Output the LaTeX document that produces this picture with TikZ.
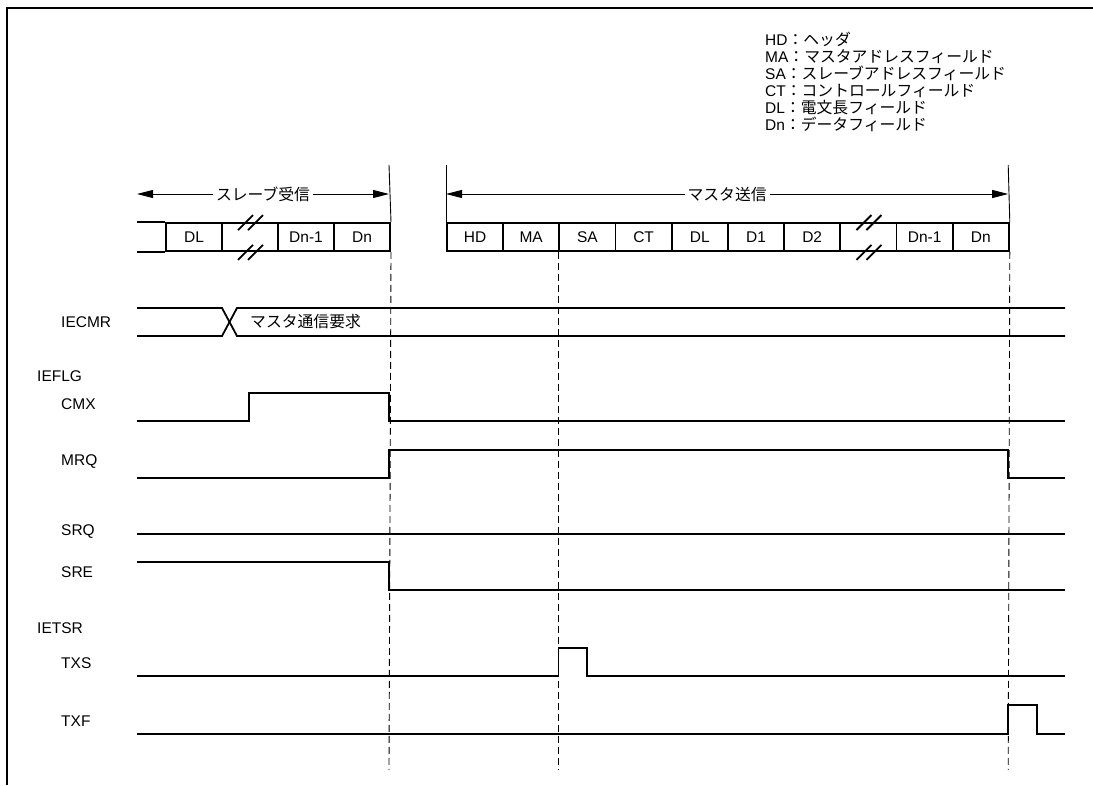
\documentclass[tikz,border=0pt]{standalone}
\usepackage{fontspec}
\setmainfont{Liberation Sans}
\newfontfamily\jp{Noto Sans CJK JP}[Scale=1.02]
\usetikzlibrary{arrows.meta, positioning}
\tikzset{
    field/.style={draw, line width=1.8pt, minimum width=56.2pt, minimum height=28pt, inner sep=0pt, anchor=west, font=\fontsize{15.5}{17}\selectfont},
    sig/.style={line width=1.8pt, line join=miter},
    marker/.style={line width=0.9pt},
    guide/.style={line width=0.9pt, dash pattern=on 7pt off 4pt},
    span/.style={{Triangle[length=16pt,width=8pt]}-{Triangle[length=16pt,width=8pt]}, line width=0.9pt},
    sname/.style={anchor=west, inner sep=0pt, font=\fontsize{15.5}{17}\selectfont},
    brk/.style={line width=1.8pt}
}

\begin{document}
\begin{tikzpicture}[x=1pt, y=-1pt]
    \useasboundingbox (0,0) rectangle (1093,785);
    \draw[line width=2pt] (7,785) -- (7,8) -- (1093,8);

    % legend
    \node[anchor=north west, align=left, inner sep=0pt, font=\fontsize{15.5}{17}\selectfont] (legend) at (765,32) {
      HD\jp{：ヘッダ}\\
      MA\jp{：マスタアドレスフィールド}\\
      SA\jp{：スレーブアドレスフィールド}\\
      CT\jp{：コントロールフィールド}\\
      DL\jp{：電文長フィールド}\\
      Dn\jp{：データフィールド}
    };

    % frames
    \foreach \t [count=\i from 0] in {DL,{},Dn-1,Dn}
      \node[field] (s\i) at (165+56*\i,237) {\t};
    \draw[brk] (s0.north west) -- ++(-28,0);
    \draw[brk] (s0.south west) -- ++(-28,0);
    \foreach \t [count=\i from 0] in {HD,MA,SA,CT,DL,D1,D2,{},Dn-1,Dn}
      \node[field] (m\i) at (446+56.2*\i,237) {\t};
    \foreach \b in {s1,m7} {
      \draw[brk] ([shift={(-12,8)}]\b.north) -- ++(15,-15);
      \draw[brk] ([shift={(-2,8)}]\b.north) -- ++(15,-15);
      \draw[brk] ([shift={(-12,8)}]\b.south) -- ++(15,-15);
      \draw[brk] ([shift={(-2,8)}]\b.south) -- ++(15,-15);
    }

    % markers and spans
    \coordinate (tA) at (389,165);
    \coordinate (tB) at (446,165);
    \coordinate (tC) at (1008.2,165);
    \coordinate (slvL) at (137,194);
    \draw[marker] (tA) -- (s3.north east);
    \draw[marker] (tB) -- (m0.north west);
    \draw[marker] (tC) -- (m9.north east);
    \draw[span] (slvL) -- (slvL -| tA) node[midway, fill=white, inner sep=3pt, font=\fontsize{15.5}{17}\selectfont] (slvT) {\jp スレーブ受信};
    \draw[span] (slvL -| tB) -- (slvL -| tC) node[midway, fill=white, inner sep=3pt, font=\fontsize{15.5}{17}\selectfont] (mstT) {\jp マスタ送信};
    \draw[guide] (s3.south east) -- (389,770);
    \draw[guide] (m2.south west) -- (558.4,770);
    \draw[guide] (m9.south east) -- (1008.2,770);

    % signal names
    \node[sname] (lIECMR) at (61,322) {IECMR};
    \node[sname] (lIEFLG) at (37,376) {IEFLG};
    \node[sname] (lCMX) at (61,404) {CMX};
    \node[sname] (lMRQ) at (61,462) {MRQ};
    \node[sname] (lSRQ) at (61,532) {SRQ};
    \node[sname] (lSRE) at (61,572) {SRE};
    \node[sname] (lIETSR) at (37,628) {IETSR};
    \node[sname] (lTXS) at (61,663) {TXS};
    \node[sname] (lTXF) at (61,721) {TXF};

    % waveforms
    \draw[sig] (137,308) -- (222,308) -- (237,336) -- (1065,336);
    \draw[sig] (137,336) -- (222,336) -- (237,308) -- (1065,308);
    \node[sname, font=\fontsize{15.5}{17}\selectfont\jp] (cmrT) at (250,322) {マスタ通信要求};
    \draw[sig] (137,421) -| (249,393) -| (389,421) -- (1065,421);
    \draw[sig] (137,478) -| (389,450) -| (1008.2,478) -- (1065,478);
    \draw[sig] (137,534) -- (1065,534);
    \draw[sig] (137,562) -| (389,590) -- (1065,590);
    \draw[sig] (137,676) -| (558.4,648) -| (587,676) -- (1065,676);
    \draw[sig] (137,734) -| (1008.2,705) -| (1037,734) -- (1065,734);
\end{tikzpicture}
\end{document}
